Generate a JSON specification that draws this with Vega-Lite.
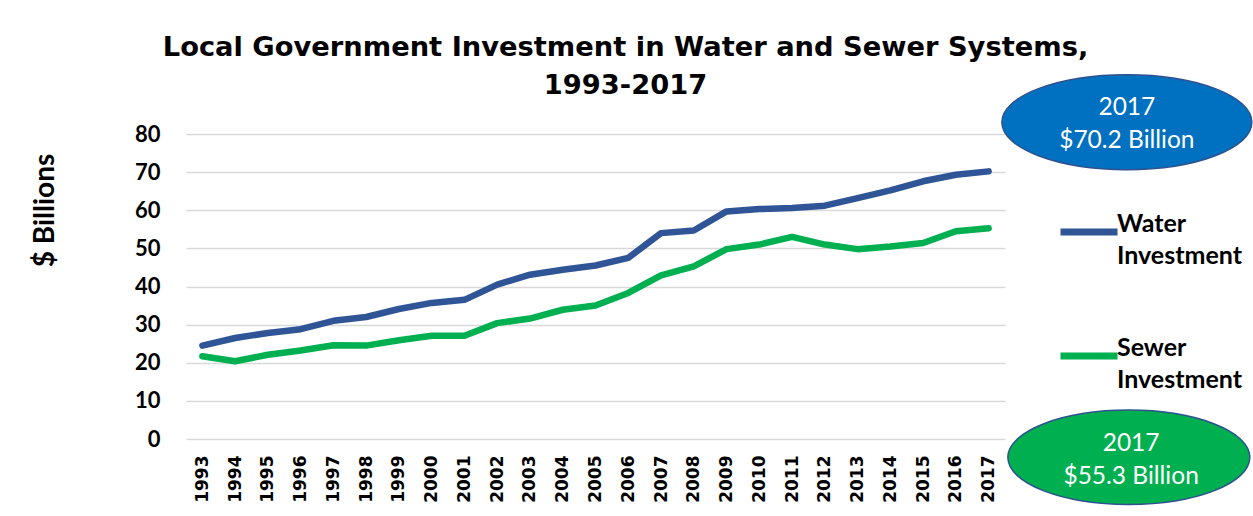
{
  "$schema": "https://vega.github.io/schema/vega-lite/v6.json",
  "width": 819,
  "height": 305,
  "autosize": {"type": "none"},
  "padding": {"left": 186, "top": 134, "right": 248, "bottom": 77},
  "background": "white",
  "config": {
    "view": {"stroke": null},
    "font": "Lato",
    "style": {"guide-label": {"lineHeight": 32}}
  },
  "title": {
    "text": ["Local Government Investment in Water and Sewer Systems,", "1993-2017"],
    "font": "DejaVu Sans",
    "fontWeight": "bold",
    "fontSize": 27.3,
    "lineHeight": 38,
    "anchor": "middle",
    "baseline": "bottom",
    "dx": 30,
    "dy": 89,
    "offset": 33,
    "color": "#000000"
  },
  "data": {
    "values": [
      {"year": 1993, "series": "Water Investment", "value": 24.5},
      {"year": 1994, "series": "Water Investment", "value": 26.5},
      {"year": 1995, "series": "Water Investment", "value": 27.8},
      {"year": 1996, "series": "Water Investment", "value": 28.8},
      {"year": 1997, "series": "Water Investment", "value": 31.0},
      {"year": 1998, "series": "Water Investment", "value": 32.0},
      {"year": 1999, "series": "Water Investment", "value": 34.1},
      {"year": 2000, "series": "Water Investment", "value": 35.7},
      {"year": 2001, "series": "Water Investment", "value": 36.5},
      {"year": 2002, "series": "Water Investment", "value": 40.5},
      {"year": 2003, "series": "Water Investment", "value": 43.1},
      {"year": 2004, "series": "Water Investment", "value": 44.4},
      {"year": 2005, "series": "Water Investment", "value": 45.5},
      {"year": 2006, "series": "Water Investment", "value": 47.5},
      {"year": 2007, "series": "Water Investment", "value": 54.0},
      {"year": 2008, "series": "Water Investment", "value": 54.7},
      {"year": 2009, "series": "Water Investment", "value": 59.7},
      {"year": 2010, "series": "Water Investment", "value": 60.3},
      {"year": 2011, "series": "Water Investment", "value": 60.6},
      {"year": 2012, "series": "Water Investment", "value": 61.2},
      {"year": 2013, "series": "Water Investment", "value": 63.2},
      {"year": 2014, "series": "Water Investment", "value": 65.2},
      {"year": 2015, "series": "Water Investment", "value": 67.6},
      {"year": 2016, "series": "Water Investment", "value": 69.3},
      {"year": 2017, "series": "Water Investment", "value": 70.2},
      {"year": 1993, "series": "Sewer Investment", "value": 21.7},
      {"year": 1994, "series": "Sewer Investment", "value": 20.4},
      {"year": 1995, "series": "Sewer Investment", "value": 22.1},
      {"year": 1996, "series": "Sewer Investment", "value": 23.2},
      {"year": 1997, "series": "Sewer Investment", "value": 24.6},
      {"year": 1998, "series": "Sewer Investment", "value": 24.5},
      {"year": 1999, "series": "Sewer Investment", "value": 25.9},
      {"year": 2000, "series": "Sewer Investment", "value": 27.1},
      {"year": 2001, "series": "Sewer Investment", "value": 27.1},
      {"year": 2002, "series": "Sewer Investment", "value": 30.4},
      {"year": 2003, "series": "Sewer Investment", "value": 31.6},
      {"year": 2004, "series": "Sewer Investment", "value": 33.9},
      {"year": 2005, "series": "Sewer Investment", "value": 35.0},
      {"year": 2006, "series": "Sewer Investment", "value": 38.3},
      {"year": 2007, "series": "Sewer Investment", "value": 42.9},
      {"year": 2008, "series": "Sewer Investment", "value": 45.3},
      {"year": 2009, "series": "Sewer Investment", "value": 49.8},
      {"year": 2010, "series": "Sewer Investment", "value": 51.0},
      {"year": 2011, "series": "Sewer Investment", "value": 53.0},
      {"year": 2012, "series": "Sewer Investment", "value": 51.0},
      {"year": 2013, "series": "Sewer Investment", "value": 49.8},
      {"year": 2014, "series": "Sewer Investment", "value": 50.5},
      {"year": 2015, "series": "Sewer Investment", "value": 51.4},
      {"year": 2016, "series": "Sewer Investment", "value": 54.5},
      {"year": 2017, "series": "Sewer Investment", "value": 55.3}
    ]
  },
  "encoding": {
    "x": {
      "field": "year",
      "type": "quantitative",
      "scale": {"domain": [1992.5, 2017.5], "nice": false, "zero": false},
      "axis": {
        "title": null,
        "values": [1993, 1994, 1995, 1996, 1997, 1998, 1999, 2000, 2001, 2002, 2003, 2004, 2005, 2006, 2007, 2008, 2009, 2010, 2011, 2012, 2013, 2014, 2015, 2016, 2017],
        "format": "d",
        "labelAngle": 270,
        "labelAlign": "right",
        "labelBaseline": "middle",
        "labelFont": "DejaVu Sans",
        "labelFontWeight": "bold",
        "labelFontSize": 17,
        "labelColor": "#000000",
        "labelPadding": 16,
        "labelOverlap": false,
        "labelFlush": false,
        "domain": false,
        "ticks": false,
        "grid": false
      }
    },
    "y": {
      "field": "value",
      "type": "quantitative",
      "scale": {"domain": [0, 80], "nice": false},
      "axis": {
        "title": "$ Billions",
        "titleFont": "Lato",
        "titleFontWeight": "bold",
        "titleFontSize": 28,
        "titleColor": "#000000",
        "titleAngle": 270,
        "titleAlign": "center",
        "titleBaseline": "middle",
        "titleX": -141,
        "titleY": 76,
        "values": [0, 10, 20, 30, 40, 50, 60, 70, 80],
        "labelFont": "Lato",
        "labelFontWeight": "bold",
        "labelFontSize": 22,
        "labelColor": "#000000",
        "labelPadding": 26,
        "domain": false,
        "ticks": false,
        "grid": true,
        "gridColor": "#D9D9D9",
        "gridWidth": 1.5
      }
    }
  },
  "layer": [
    {
      "mark": {"type": "line", "strokeWidth": 6.5, "strokeCap": "round", "strokeJoin": "round"},
      "encoding": {
        "color": {
          "field": "series",
          "type": "nominal",
          "scale": {"domain": ["Water Investment", "Sewer Investment"], "range": ["#2F5597", "#00B050"]},
          "legend": {
            "title": null,
            "orient": "none",
            "legendX": 871,
            "legendY": 66,
            "padding": 0,
            "symbolType": "stroke",
            "symbolSize": 3249,
            "symbolStrokeWidth": 7,
            "labelExpr": "split(datum.label, ' ')",
            "labelFont": "Lato",
            "labelFontWeight": "bold",
            "labelFontSize": 25,
            "labelColor": "#000000",
            "labelBaseline": "alphabetic",
            "labelOffset": -4,
            "labelLimit": 300,
            "rowPadding": 55
          }
        }
      }
    },
    {
      "transform": [{"filter": "datum.year == 2017 && datum.series == 'Water Investment'"}],
      "mark": {
        "type": "point",
        "shape": "M-1,0A1,0.38,0,1,0,1,0A1,0.38,0,1,0,-1,0Z",
        "size": 62500,
        "filled": true,
        "fill": "#0070C0",
        "stroke": "#2F528F",
        "strokeWidth": 1.5,
        "opacity": 1
      },
      "encoding": {
        "x": {"datum": 2021.22, "type": "quantitative"},
        "y": {"datum": 83.1, "type": "quantitative"}
      }
    },
    {
      "transform": [{"filter": "datum.year == 2017 && datum.series == 'Water Investment'"}],
      "mark": {
        "type": "text",
        "text": ["2017", "$70.2 Billion"],
        "font": "Lato",
        "fontSize": 24.5,
        "lineHeight": 33,
        "color": "#FFFFFF",
        "align": "center",
        "baseline": "middle"
      },
      "encoding": {
        "x": {"datum": 2021.22, "type": "quantitative"},
        "y": {"datum": 86.8, "type": "quantitative"}
      }
    },
    {
      "transform": [{"filter": "datum.year == 2017 && datum.series == 'Sewer Investment'"}],
      "mark": {
        "type": "point",
        "shape": "M-1,0A1,0.39,0,1,0,1,0A1,0.39,0,1,0,-1,0Z",
        "size": 58564,
        "filled": true,
        "fill": "#00B050",
        "stroke": "#2F528F",
        "strokeWidth": 1.5,
        "opacity": 1
      },
      "encoding": {
        "x": {"datum": 2021.28, "type": "quantitative"},
        "y": {"datum": -4.8, "type": "quantitative"}
      }
    },
    {
      "transform": [{"filter": "datum.year == 2017 && datum.series == 'Sewer Investment'"}],
      "mark": {
        "type": "text",
        "text": ["2017", "$55.3 Billion"],
        "font": "Lato",
        "fontSize": 24.5,
        "lineHeight": 33,
        "color": "#FFFFFF",
        "align": "center",
        "baseline": "middle"
      },
      "encoding": {
        "x": {"datum": 2021.35, "type": "quantitative"},
        "y": {"datum": -1.3, "type": "quantitative"}
      }
    }
  ]
}
